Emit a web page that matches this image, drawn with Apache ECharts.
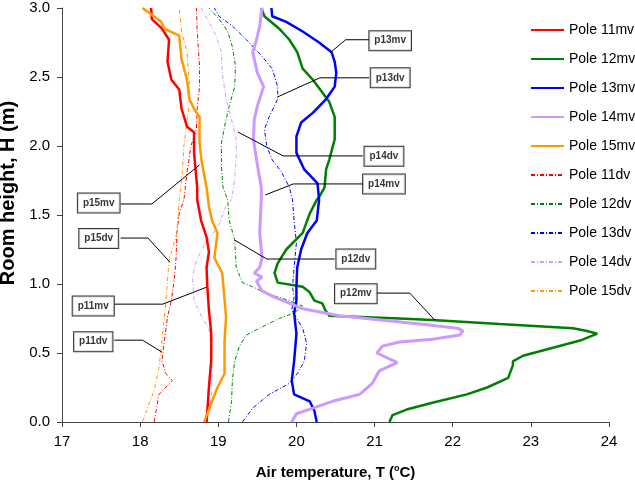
<!DOCTYPE html>
<html lang="en">
<head>
    <meta charset="UTF-8">
    <title>Room height vs air temperature</title>
    <script src="https://cdn.jsdelivr.net/npm/echarts@6/dist/echarts.min.js"></script>
    <style>
        body { margin: 0; background: #fff; }
        #main { width: 635px; height: 482px; }
    </style>
</head>
<body>
    <div id="main"></div>
    <script>
        // measured profiles, [temperature (C), height (m)], bottom to top
        var p11mv = [[18.85,0],[18.88,0.25],[18.91,0.45],[18.91,0.64],[18.88,0.81],[18.86,0.98],[18.85,1.12],[18.88,1.23],[18.85,1.34],[18.78,1.46],[18.73,1.61],[18.73,1.70],[18.69,1.95],[18.69,2.10],[18.60,2.14],[18.53,2.27],[18.50,2.41],[18.40,2.48],[18.35,2.61],[18.37,2.77],[18.28,2.85],[18.15,2.92],[18.14,3.0]];
        var p12mv = [[21.19,0],[21.23,0.05],[21.41,0.09],[21.74,0.14],[22.18,0.20],[22.44,0.25],[22.71,0.32],[22.77,0.41],[22.77,0.44],[22.90,0.48],[23.63,0.59],[23.85,0.64],[23.72,0.66],[23.54,0.68],[22.60,0.71],[21.74,0.74],[21.32,0.75],[20.42,0.77],[20.37,0.81],[20.33,0.86],[20.23,0.88],[20.17,0.94],[20.08,0.98],[19.76,1.01],[19.72,1.08],[19.76,1.15],[19.87,1.25],[20.08,1.37],[20.17,1.51],[20.26,1.61],[20.29,1.63],[20.36,1.70],[20.38,1.83],[20.42,1.90],[20.49,2.05],[20.49,2.21],[20.42,2.32],[20.33,2.39],[20.21,2.48],[20.08,2.56],[20.01,2.68],[19.91,2.77],[19.78,2.85],[19.59,2.94],[19.55,3.0]];
        var p13mv = [[20.26,0],[20.23,0.08],[20.17,0.15],[19.97,0.20],[19.94,0.30],[19.97,0.44],[20.00,0.64],[19.97,0.79],[20.00,0.88],[20.00,0.98],[20.01,1.12],[20.06,1.25],[20.14,1.37],[20.26,1.46],[20.29,1.61],[20.27,1.73],[20.10,1.83],[20.00,1.95],[20.00,2.07],[20.06,2.17],[20.21,2.24],[20.38,2.34],[20.49,2.43],[20.51,2.53],[20.49,2.61],[20.45,2.68],[20.29,2.75],[20.08,2.83],[19.87,2.90],[19.69,2.94],[19.68,3.0]];
        var p14mv = [[19.94,0],[20.00,0.06],[20.21,0.10],[20.46,0.15],[20.81,0.20],[20.97,0.28],[21.06,0.37],[21.29,0.43],[21.03,0.50],[21.10,0.55],[21.32,0.58],[21.74,0.60],[22.09,0.63],[22.13,0.66],[22.06,0.68],[21.58,0.71],[20.55,0.77],[20.08,0.82],[19.87,0.87],[19.74,0.90],[19.56,0.95],[19.49,1.02],[19.56,1.05],[19.46,1.08],[19.53,1.12],[19.56,1.19],[19.53,1.37],[19.55,1.61],[19.55,1.70],[19.49,1.90],[19.45,2.05],[19.46,2.19],[19.50,2.29],[19.58,2.43],[19.50,2.53],[19.44,2.68],[19.49,2.77],[19.53,2.87],[19.56,3.0]];
        var p15mv = [[18.82,0],[18.92,0.15],[18.99,0.25],[19.08,0.35],[19.08,0.59],[19.10,0.76],[19.05,1.08],[18.95,1.19],[18.99,1.37],[18.92,1.46],[18.88,1.56],[18.85,1.70],[18.79,1.88],[18.76,2.02],[18.76,2.21],[18.69,2.27],[18.63,2.34],[18.60,2.48],[18.53,2.63],[18.50,2.80],[18.31,2.85],[18.27,2.90],[18.03,3.0]];
        var p11dv = [[18.18,0],[18.24,0.20],[18.41,0.30],[18.33,0.35],[18.28,0.44],[18.31,0.59],[18.35,0.76],[18.40,0.88],[18.44,1.05],[18.46,1.19],[18.47,1.37],[18.50,1.51],[18.56,1.61],[18.60,1.81],[18.65,2.00],[18.72,2.12],[18.73,2.27],[18.76,2.43],[18.76,2.58],[18.73,2.83],[18.72,3.0]];
        var p12dv = [[19.13,0],[19.17,0.15],[19.18,0.30],[19.21,0.44],[19.27,0.55],[19.36,0.63],[19.53,0.68],[19.78,0.75],[19.97,0.79],[20.08,0.84],[19.91,0.88],[19.62,0.93],[19.44,0.98],[19.31,1.01],[19.23,1.12],[19.21,1.32],[19.14,1.46],[19.12,1.61],[19.06,1.70],[19.04,1.85],[19.04,2.02],[19.08,2.14],[19.14,2.29],[19.21,2.43],[19.22,2.58],[19.18,2.72],[19.12,2.83],[19.01,2.92],[18.88,3.0]];
        var p13dv = [[19.31,0],[19.44,0.10],[19.65,0.20],[19.91,0.28],[20.01,0.35],[20.10,0.44],[20.13,0.57],[20.08,0.68],[19.94,0.81],[19.97,0.90],[19.95,0.98],[19.97,1.12],[20.00,1.30],[19.97,1.46],[19.95,1.61],[19.91,1.70],[19.81,1.81],[19.69,1.90],[19.62,2.00],[19.59,2.12],[19.65,2.21],[19.76,2.34],[19.76,2.43],[19.69,2.56],[19.56,2.65],[19.36,2.77],[19.18,2.87],[19.01,2.94],[18.95,3.0]];
        var p14dv = [[18.85,0],[18.91,0.17],[18.92,0.35],[18.91,0.52],[18.88,0.68],[18.79,0.76],[18.69,0.88],[18.67,1.05],[18.72,1.17],[18.82,1.28],[19.01,1.43],[19.10,1.57],[19.17,1.61],[19.21,1.76],[19.23,1.92],[19.23,2.05],[19.17,2.19],[19.10,2.34],[19.05,2.53],[19.04,2.68],[18.97,2.80],[18.88,2.90],[18.78,3.0]];
        var p15dv = [[18.03,0],[18.08,0.08],[18.18,0.23],[18.24,0.39],[18.28,0.59],[18.33,0.88],[18.37,1.17],[18.47,1.37],[18.50,1.61],[18.54,1.81],[18.56,2.00],[18.59,2.14],[18.63,2.32],[18.63,2.46],[18.60,2.68],[18.53,2.83],[18.50,3.0]];

        var seriesNames = ['Pole 11mv', 'Pole 12mv', 'Pole 13mv', 'Pole 14mv', 'Pole 15mv',
                           'Pole 11dv', 'Pole 12dv', 'Pole 13dv', 'Pole 14dv', 'Pole 15dv'];
        var seriesData = [p11mv, p12mv, p13mv, p14mv, p15mv, p11dv, p12dv, p13dv, p14dv, p15dv];
        var poleColors = ['#ff0000', '#008000', '#0000ff', '#cc99ff', '#ff9900'];

        var xTicks = [17, 18, 19, 20, 21, 22, 23, 24];
        var yTicks = [0, 0.5, 1.0, 1.5, 2.0, 2.5, 3.0];

        // callout labels: text, box centre [T, H], leader line from box to curve
        var noteText = ['p13mv', 'p13dv', 'p14dv', 'p14mv', 'p12dv', 'p12mv', 'p15mv', 'p15dv', 'p11mv', 'p11dv'];
        var noteBox = [[21.20, 2.763], [21.20, 2.494], [21.12, 1.925], [21.12, 1.725], [20.76, 1.181],
                       [20.76, 0.930], [17.47, 1.587], [17.47, 1.329], [17.40, 0.840], [17.40, 0.582]];
        var noteLeader = [
            [[20.93, 2.77], [20.63, 2.77], [20.43, 2.675]],
            [[20.93, 2.494], [20.30, 2.494], [19.76, 2.356]],
            [[20.85, 1.928], [19.83, 1.928], [19.25, 2.102]],
            [[20.85, 1.725], [19.96, 1.725], [19.60, 1.645]],
            [[20.49, 1.181], [19.62, 1.181], [19.21, 1.318]],
            [[21.03, 0.934], [21.45, 0.934], [21.77, 0.739]],
            [[17.75, 1.58], [18.15, 1.58], [18.76, 1.863]],
            [[17.75, 1.333], [18.10, 1.333], [18.38, 1.159]],
            [[17.67, 0.854], [18.29, 0.854], [18.85, 0.977]],
            [[17.67, 0.593], [18.03, 0.593], [18.28, 0.506]]
        ];

        var font = 'Liberation Sans, Arial, sans-serif';
        var myChart = echarts.init(document.getElementById('main'));

        var series = seriesNames.map(function (name, i) {
            var solid = i < 5;
            return {
                name: name,
                type: 'line',
                data: seriesData[i],
                symbol: 'none',
                smooth: false,
                z: solid ? 3 : 2,
                lineStyle: {
                    color: poleColors[i % 5],
                    width: solid ? (i === 3 ? 3 : 2.5) : 1,
                    type: solid ? 'solid' : [4, 2, 1, 2]
                },
                itemStyle: { color: poleColors[i % 5] }
            };
        });

        series.push({
            name: 'leaders',
            type: 'lines',
            coordinateSystem: 'cartesian2d',
            polyline: true,
            silent: true,
            z: 5,
            lineStyle: { color: '#000', width: 1, opacity: 1 },
            data: noteLeader.map(function (pts) { return { coords: pts }; })
        });

        series.push({
            name: 'notes',
            type: 'scatter',
            silent: true,
            z: 6,
            symbolSize: 1,
            itemStyle: { color: 'rgba(0,0,0,0)' },
            data: noteBox.map(function (p, i) { return { value: p, name: noteText[i] }; }),
            label: {
                show: true,
                position: 'inside',
                formatter: '{b}',
                fontFamily: font,
                fontWeight: 'bold',
                fontSize: 10,
                color: '#000',
                backgroundColor: '#fff',
                borderColor: '#000',
                borderWidth: 1,
                padding: [5, 5, 4, 5]
            }
        });

        myChart.setOption({
            animation: false,
            backgroundColor: '#fff',
            textStyle: { fontFamily: font },
            grid: { left: 62, right: 26, top: 8, bottom: 60, containLabel: false, outerBoundsMode: 'none' },
            legend: {
                data: seriesNames,
                orient: 'vertical',
                left: 525,
                top: 18,
                itemWidth: 33,
                itemHeight: 14,
                itemGap: 15,
                itemStyle: { opacity: 0 },
                textStyle: { fontFamily: font, fontSize: 14, color: '#000' }
            },
            xAxis: {
                type: 'value',
                min: xTicks[0],
                max: xTicks[xTicks.length - 1],
                interval: 1,
                name: 'Air temperature, T ({sup|o}C)',
                nameLocation: 'middle',
                nameGap: 42,
                nameTextStyle: {
                    fontFamily: font, fontWeight: 'bold', fontSize: 15, color: '#000',
                    rich: { sup: { fontFamily: font, fontWeight: 'bold', fontSize: 9, color: '#000', padding: [0, 0, 8, 0] } }
                },
                splitLine: { show: false },
                axisLine: { lineStyle: { color: '#444', width: 1 } },
                axisTick: { length: 5, lineStyle: { color: '#444' } },
                axisLabel: { fontFamily: font, fontSize: 15, color: '#000', margin: 12 }
            },
            yAxis: {
                type: 'value',
                min: yTicks[0],
                max: yTicks[yTicks.length - 1],
                interval: 0.5,
                name: 'Room height, H (m)',
                nameLocation: 'middle',
                nameGap: 38,
                nameRotate: 90,
                nameTextStyle: { fontFamily: font, fontWeight: 'bold', fontSize: 20, color: '#000', padding: [0, 0, 0, 44] },
                splitLine: { show: false },
                axisLine: { show: true, lineStyle: { color: '#444', width: 1 } },
                axisTick: { show: true, length: 5, lineStyle: { color: '#444' } },
                axisLabel: {
                    fontFamily: font, fontSize: 15, color: '#000', margin: 12,
                    formatter: function (v) { return v.toFixed(1); }
                }
            },
            series: series
        });
    </script>
</body>
</html>
